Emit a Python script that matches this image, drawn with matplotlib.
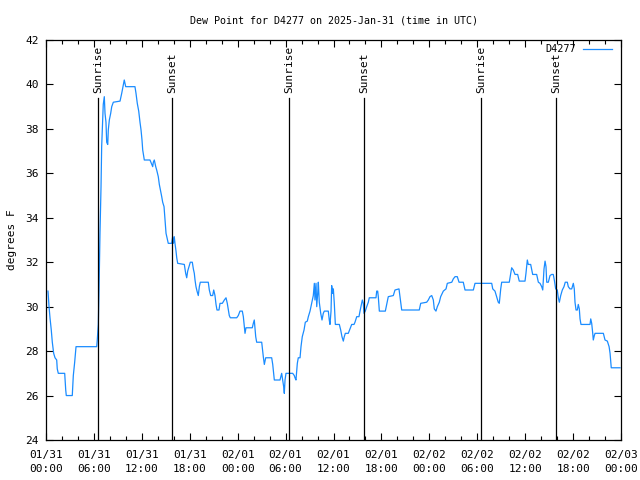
import datetime as dt
import matplotlib
matplotlib.use('Agg')
import matplotlib.pyplot as plt
import matplotlib.dates as mdates

# Dados: horas desde 2025-01-31 00:00 UTC e ponto de orvalho (F)
horas = [0.25, 0.38, 0.5, 0.66, 0.79, 0.96, 1.13, 1.34, 1.41, 1.54, 2.34, 2.47, 2.54, 3.29, 3.42,
         3.59, 3.76, 6.35, 6.42, 6.55, 6.64, 6.76, 6.89, 6.97, 7.10, 7.17, 7.30, 7.39, 7.51, 7.60,
         7.73, 7.80, 7.93, 8.10, 8.23, 8.43, 9.27, 9.48, 9.68, 9.80, 9.98, 11.14, 11.27, 11.43,
         11.61, 11.77, 11.90, 12.02, 12.11, 12.31, 13.02, 13.24, 13.36, 13.44, 13.56, 13.74, 13.86,
         14.06, 14.19, 14.36, 14.49, 14.61, 14.78, 14.90, 15.03, 15.31, 15.74, 15.86, 15.96, 16.06,
         16.15, 16.28, 16.37, 16.49, 17.32, 17.49, 17.62, 17.74, 17.91, 18.07, 18.32, 18.45, 18.57,
         18.66, 18.78, 18.91, 19.07, 19.20, 19.32, 20.32, 20.45, 20.62, 20.87, 21.00, 21.16, 21.29,
         21.41, 21.66, 21.79, 22.08, 22.33, 22.54, 22.70, 22.83, 22.95, 23.08, 23.88, 24.08, 24.29,
         24.58, 24.71, 24.83, 24.92, 25.04, 25.83, 25.96, 26.08, 26.26, 26.38, 27.01, 27.21, 27.34,
         27.51, 28.26, 28.39, 28.51, 28.59, 29.30, 29.51, 29.64, 29.76, 29.84, 29.93, 30.05, 30.89,
         31.09, 31.18, 31.30, 31.47, 31.59, 31.81, 31.93, 32.09, 32.31, 32.47, 32.72, 32.85, 33.06,
         33.27, 33.47, 33.60, 33.68, 33.81, 33.90, 34.02, 34.10, 34.22, 34.40, 34.56, 34.72, 34.85,
         35.35, 35.47, 35.56, 35.69, 35.77, 35.90, 35.98, 36.10, 36.23, 36.73, 36.90, 37.06, 37.23,
         37.35, 37.48, 37.85, 38.07, 38.28, 38.57, 38.69, 38.91, 39.19, 39.32, 39.44, 39.61, 39.73,
         39.82, 39.98, 40.16, 40.36, 40.48, 41.32, 41.41, 41.53, 41.61, 41.74, 42.49, 42.66, 42.86,
         43.49, 43.70, 44.20, 44.33, 44.54, 46.74, 46.92, 47.67, 47.87, 48.08, 48.30, 48.50, 48.62,
         48.83, 49.00, 49.25, 49.42, 49.75, 50.09, 50.25, 50.81, 51.00, 51.22, 51.50, 51.72, 52.25,
         52.47, 53.51, 53.72, 55.81, 55.94, 56.22, 56.43, 56.63, 56.76, 56.94, 57.06, 58.01, 58.19,
         58.31, 58.51, 58.73, 59.06, 59.26, 59.98, 60.10, 60.27, 60.39, 60.69, 60.94, 61.44, 61.65,
         61.86, 62.07, 62.20, 62.36, 62.49, 62.61, 62.70, 62.90, 63.11, 63.32, 63.52, 63.65, 63.82,
         64.02, 64.15, 64.28, 64.45, 64.65, 64.86, 65.02, 65.28, 65.40, 65.61, 65.83, 66.03, 66.15,
         66.24, 66.37, 66.53, 66.65, 66.78, 66.87, 66.99, 68.12, 68.21, 68.33, 68.46, 68.53, 68.66,
         68.75, 69.79, 70.00, 70.29, 70.51, 70.63, 70.78, 71.87]
orvalho = [30.7, 30.0, 29.5, 28.95, 28.4, 27.9, 27.7, 27.6, 27.2, 27.0, 27.0, 26.25, 26.0, 26.0, 26.9,
           27.5, 28.2, 28.2, 28.5, 29.2, 30.75, 33.3, 35.4, 37.2, 38.4, 39.1, 39.45, 38.7, 38.3, 37.4,
           37.3, 37.95, 38.4, 38.7, 39.0, 39.2, 39.25, 39.6, 39.97, 40.2, 39.9, 39.9, 39.6, 39.15,
           38.8, 38.3, 37.95, 37.5, 37.05, 36.6, 36.6, 36.4, 36.3, 36.5, 36.6, 36.3, 36.15,
           35.85, 35.5, 35.2, 34.95, 34.7, 34.5, 33.9, 33.3, 32.85, 32.85, 33.15, 32.85, 33.15,
           32.85, 32.5, 32.2, 31.95, 31.9, 31.5, 31.3, 31.6, 31.8, 32.0, 32.0, 31.7, 31.5,
           31.2, 30.9, 30.7, 30.5, 30.9, 31.1, 31.1, 30.75, 30.5, 30.5, 30.75, 30.5, 30.1,
           29.85, 29.85, 30.15, 30.15, 30.3, 30.4, 30.15, 29.85, 29.6, 29.5, 29.5, 29.6, 29.8,
           29.8, 29.55, 29.1, 28.8, 29.05, 29.05, 29.25, 29.4, 28.65, 28.4, 28.4, 27.75, 27.4,
           27.7, 27.7, 27.4, 27.0, 26.7, 26.7, 27.0, 26.7, 26.4, 26.1, 26.7, 27.0, 27.0,
           26.9, 26.8, 26.7, 27.45, 27.7, 27.7, 28.2, 28.65, 28.95, 29.3, 29.35, 29.55, 29.8,
           30.15, 30.5, 31.05, 30.3, 31.05, 30.0, 30.6, 31.1, 30.2, 29.7, 29.4, 29.7, 29.8,
           29.8, 29.4, 29.2, 29.8, 30.95, 30.6, 30.8, 30.15, 29.2, 29.2, 28.95, 28.65, 28.45,
           28.65, 28.8, 28.8, 29.0, 29.2, 29.2, 29.3, 29.55, 29.55, 29.8, 30.0, 30.3, 30.15,
           29.7, 29.8, 30.0, 30.2, 30.4, 30.4, 30.7, 30.7, 30.45, 29.8, 29.8, 30.1, 30.45,
           30.5, 30.75, 30.8, 30.45, 29.85, 29.85, 30.15, 30.2, 30.3, 30.45, 30.5, 30.3, 29.9,
           29.8, 30.0, 30.2, 30.45, 30.7, 30.8, 31.05, 31.1, 31.25, 31.35, 31.35, 31.1, 31.1,
           30.75, 30.75, 31.05, 31.05, 30.8, 30.7, 30.45, 30.2, 30.15, 30.8, 31.1, 31.1, 31.5,
           31.75, 31.65, 31.45, 31.45, 31.15, 31.15, 31.5, 32.1, 31.9, 31.9, 31.45, 31.45, 31.1,
           31.05, 30.9, 30.75, 31.7, 32.05, 31.8, 31.1, 31.1, 31.4, 31.45, 31.45, 31.2, 30.8,
           30.75, 30.4, 30.2, 30.5, 30.75, 30.9, 31.1, 31.1, 30.9, 30.8, 30.8, 31.05, 30.8,
           30.2, 29.85, 29.85, 30.1, 29.9, 29.45, 29.2, 29.2, 29.45, 29.25, 28.8, 28.5, 28.7,
           28.8, 28.8, 28.5, 28.45, 28.2, 27.9, 27.25, 27.25]

# Nascer e pôr do sol (horas desde o início)
eventos = ['Sunrise', 'Sunset', 'Sunrise', 'Sunset', 'Sunrise', 'Sunset']
horas_eventos = [6.5, 15.77, 30.43, 39.82, 54.47, 63.86]

inicio = dt.datetime(2025, 1, 31)
tempos = [inicio + dt.timedelta(hours=h) for h in horas]

plt.rcParams['font.family'] = 'DejaVu Sans Mono'
plt.rcParams['font.size'] = 8

fig = plt.figure(figsize=(6.4, 4.8), dpi=100)
ax = fig.add_axes([46 / 640, 40 / 480, 575 / 640, 400 / 480])

ax.plot(tempos, orvalho, color='#1a8cff', linewidth=0.9, label='D4277')

for nome, h in zip(eventos, horas_eventos):
    t = inicio + dt.timedelta(hours=h)
    ax.plot([t, t], [24, 39.38], color='black', linewidth=0.9)
    ax.text(t, 39.62, nome, rotation=90, ha='center', va='bottom', fontsize=8)

ax.set_xlim(inicio, inicio + dt.timedelta(hours=72))
ax.set_ylim(24, 42)
ax.set_yticks(range(24, 43, 2))
ax.xaxis.set_major_locator(mdates.HourLocator(byhour=range(0, 24, 6)))
ax.xaxis.set_minor_locator(mdates.HourLocator(byhour=range(0, 24, 2)))
ax.xaxis.set_major_formatter(mdates.DateFormatter('%m/%d\n%H:%M'))
ax.tick_params(which='both', direction='in', top=True, right=True, color='black')
ax.tick_params(which='major', length=5, width=0.8, pad=5)
ax.tick_params(axis='x', which='major', pad=7)
ax.tick_params(which='minor', length=3, width=0.8)
for lbl in ax.get_xticklabels():
    lbl.set_linespacing(1.55)
for s in ax.spines.values():
    s.set_linewidth(0.9)

ax.set_title('Dew Point for D4277 on 2025-Jan-31 (time in UTC)', fontsize=7.2, pad=12)
ax.set_ylabel('degrees F', labelpad=6)
ax.legend(loc='upper right', bbox_to_anchor=(0.995, 1.004), frameon=False, markerfirst=False,
          handlelength=2.9, borderaxespad=0.2, handletextpad=0.7, fontsize=7.3)

plt.savefig('out.png', dpi=100)
